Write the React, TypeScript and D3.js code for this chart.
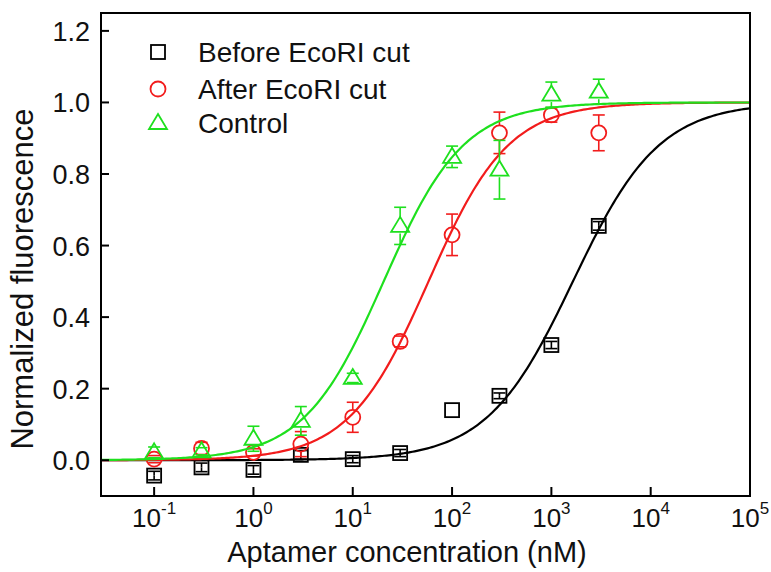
import React from 'react';
import * as d3 from 'd3';

// concentrations (nM), shared by all three series
const concentrations = [0.1, 0.3, 1, 3, 10, 30, 100, 300, 1000, 3000];

const beforeValues = [-0.043, -0.02, -0.027, 0.015, 0.003, 0.02, 0.14, 0.18, 0.322, 0.655];
const beforeErrors = [0.012, 0.012, 0.012, 0.012, 0.01, 0.01, 0, 0.008, 0.01, 0.012];

const afterValues = [0.003, 0.033, 0.022, 0.045, 0.12, 0.332, 0.63, 0.915, 0.965, 0.915];
const afterErrors = [0.01, 0.017, 0.01, 0.035, 0.042, 0.015, 0.058, 0.058, 0.02, 0.05];

const controlValues = [0.022, 0.025, 0.06, 0.11, 0.23, 0.655, 0.848, 0.812, 1.022, 1.03];
const controlErrors = [0.015, 0.01, 0.035, 0.04, 0.013, 0.052, 0.03, 0.082, 0.035, 0.035];

// Hill fit parameters [K (nM), n]
const beforeFit = [1650, 1.0];
const afterFit = [58, 1.08];
const controlFit = [20.5, 1.08];

const yTicks = [0, 0.2, 0.4, 0.6, 0.8, 1.0, 1.2];
const xTickExponents = [-1, 0, 1, 2, 3, 4, 5];

const legendLabels = ['Before EcoRI cut', 'After EcoRI cut', 'Control'];

const W = 771;
const H = 572;
const FONT = '"Liberation Sans", Arial, Helvetica, sans-serif';
const RED = '#f21c1c';
const GREEN = '#1ee01e';

const x = d3.scaleLog().domain([Math.pow(10, -1.535), 1e5]).range([101, 750]);
const y = d3.scaleLinear().domain([-0.1, 1.25]).range([496, 13]);

function hill(c, fit) {
    const t = Math.pow(c / fit[0], fit[1]);
    return t / (1 + t);
}

const curveXs = d3.range(0, 301).map(i => Math.pow(10, -1.535 + i * (6.535 / 300)));

function marker(kind, color, cx, cy, key) {
    if (kind === 'square') {
        return <rect key={key} x={cx - 7} y={cy - 7} width={14} height={14}
            fill="none" stroke={color} strokeWidth={1.8} />;
    }
    if (kind === 'circle') {
        return <circle key={key} cx={cx} cy={cy} r={7.5}
            fill="none" stroke={color} strokeWidth={1.8} />;
    }
    const p = [[cx, cy - 9], [cx + 9, cy + 6], [cx - 9, cy + 6]];
    return <polygon key={key} points={p.map(q => q.join(',')).join(' ')}
        fill="none" stroke={color} strokeWidth={1.8} />;
}

function Series({ values, errors, fit, color, kind }) {
    const line = d3.line().x(d => x(d)).y(d => y(hill(d, fit)));
    const gap = kind === 'square' ? 0 : 7.5;
    return (
        <g>
            <path d={line(curveXs)} fill="none" stroke={color} strokeWidth={2.2} />
            {concentrations.map((c, i) => {
                const cx = x(c);
                const cy = y(values[i]);
                const top = y(values[i] + errors[i]);
                const bot = y(values[i] - errors[i]);
                const bars = [];
                if (errors[i] > 0) {
                    if (cy - gap > top) bars.push(<line key="u" x1={cx} x2={cx} y1={top} y2={cy - gap} />);
                    if (bot > cy + gap) bars.push(<line key="d" x1={cx} x2={cx} y1={cy + gap} y2={bot} />);
                    bars.push(<line key="t" x1={cx - 6} x2={cx + 6} y1={top} y2={top} />);
                    bars.push(<line key="b" x1={cx - 6} x2={cx + 6} y1={bot} y2={bot} />);
                }
                return (
                    <g key={i} stroke={color} strokeWidth={1.6}>
                        {bars}
                        {marker(kind, color, cx, cy, 'm')}
                    </g>
                );
            })}
        </g>
    );
}

export default function App() {
    const [x0, x1] = x.range();
    const [y0, y1] = y.range();
    const colors = ['#000', RED, GREEN];
    const kinds = ['square', 'circle', 'triangle'];
    const legendY = [52, 89, 123];

    return (
        <svg width={W} height={H} style={{ position: 'absolute', left: 0, top: 0, background: '#fff' }}
            fontFamily={FONT}>
            <Series values={beforeValues} errors={beforeErrors} fit={beforeFit} color="#000" kind="square" />
            <Series values={afterValues} errors={afterErrors} fit={afterFit} color={RED} kind="circle" />
            <Series values={controlValues} errors={controlErrors} fit={controlFit} color={GREEN} kind="triangle" />

            {/* frame */}
            <rect x={x0} y={y1} width={x1 - x0} height={y0 - y1} fill="none" stroke="#000" strokeWidth={2} />

            {/* y axis */}
            {yTicks.map(t => (
                <g key={t}>
                    <line x1={x0} x2={x0 + 8} y1={y(t)} y2={y(t)} stroke="#000" strokeWidth={2} />
                    <text x={90} y={y(t) + 10} textAnchor="end" fontSize={27} fill="#111">{t.toFixed(1)}</text>
                </g>
            ))}

            {/* x axis */}
            {xTickExponents.map(e => (
                <g key={e}>
                    <line x1={x(Math.pow(10, e))} x2={x(Math.pow(10, e))} y1={y0} y2={y0 - 9}
                        stroke="#000" strokeWidth={2} />
                    <text x={x(Math.pow(10, e))} y={527} textAnchor="middle" fontSize={26} fill="#111">
                        10<tspan fontSize={17} dy={-13}>{e}</tspan>
                    </text>
                </g>
            ))}

            <text x={407} y={562} textAnchor="middle" fontSize={29} fill="#111">
                Aptamer concentration (nM)
            </text>
            <text transform={`translate(33, 279) rotate(-90)`} textAnchor="middle"
                fontSize={31} fill="#111">Normalized fluorescence</text>

            {/* legend */}
            {legendLabels.map((label, i) => (
                <g key={label}>
                    {marker(kinds[i], colors[i], 158, legendY[i], 'lm')}
                    <text x={198} y={legendY[i] + 10} fontSize={28} fill="#111">{label}</text>
                </g>
            ))}
        </svg>
    );
}
